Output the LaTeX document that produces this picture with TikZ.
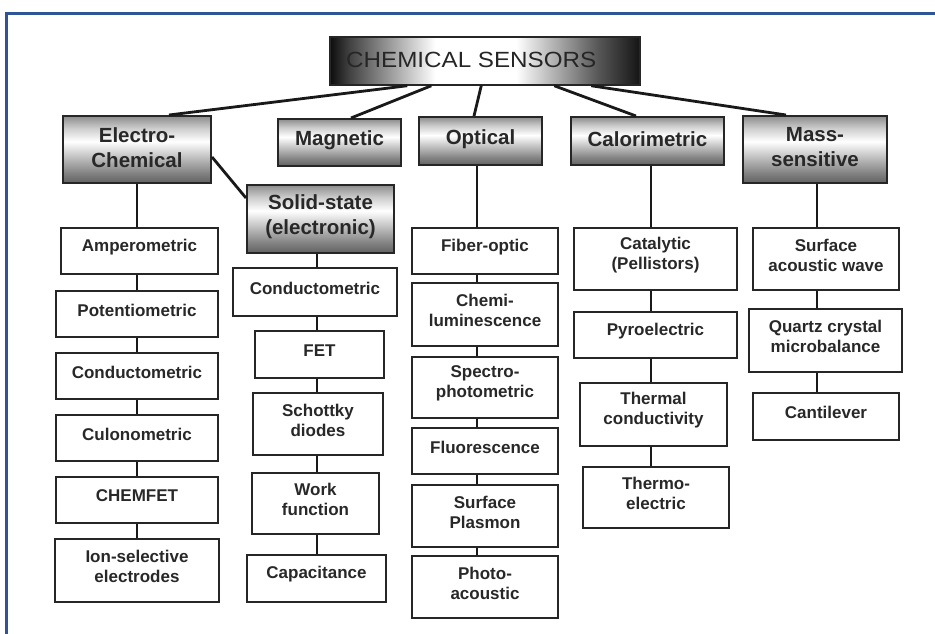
\documentclass[tikz,border=0pt]{standalone}
\usepackage{fontspec}
\setmainfont{Liberation Sans}
\newfontfamily\titlefont[FakeStretch=1.1]{Liberation Sans}
\usetikzlibrary{calc}
\definecolor{framebl}{RGB}{47,85,151}
\definecolor{txtc}{RGB}{40,40,40}
\pgfdeclareverticalshading{hdrshade}{100bp}{color(0bp)=(black!62); color(25bp)=(black!62); color(33bp)=(black!48); color(56bp)=(white); color(66bp)=(black!20); color(75bp)=(black!45); color(100bp)=(black!45)}
\pgfdeclarehorizontalshading{ttlshade}{100bp}{color(0bp)=(black); color(25bp)=(black!95); color(28bp)=(black!75); color(42bp)=(white); color(55bp)=(white); color(68bp)=(black!65); color(75bp)=(black!92); color(100bp)=(black!92)}
\newcommand\leafbox[6]{%
  \node[leaf, minimum width=#4pt, minimum height=#5pt] (#1) at (#2,#3) {};
  \node[lt] (#1t) at ([yshift=4pt]#1.center) {#6};}
\newcommand\hdrbox[6]{%
  \node[hdr, minimum width=#4pt, minimum height=#5pt] (#1) at (#2,#3) {};
  \node[ht] (#1t) at ([yshift=2pt]#1.center) {#6};}
\begin{document}
\begin{tikzpicture}[x=1pt,y=-1pt,
  leaf/.style={draw=black!85, line width=2pt, fill=white, inner sep=0pt},
  hdr/.style={draw=black!85, line width=2pt, shade, shading=hdrshade, inner sep=0pt},
  lt/.style={font=\fontsize{17}{20}\selectfont\bfseries, text=txtc, align=center, inner sep=0pt},
  ht/.style={font=\fontsize{20.5}{25}\selectfont\bfseries, text=txtc, align=center, inner sep=0pt},
  conn/.style={line width=2.8pt, black!90}]
\useasboundingbox (0,0) rectangle (935,634);
\fill[white] (0,0) rectangle (935,634);
% frame
\draw[framebl, line width=3pt] (6.5,660) -- (6.5,13.5) -- (960,13.5);

% title
\node[draw=black!85, line width=1.5pt, shade, shading=ttlshade, minimum width=310pt, minimum height=48pt, inner sep=0pt] (ttl) at (485,61) {};
\node[font=\titlefont\fontsize{22}{26}\selectfont, text=black!85, anchor=base west, inner sep=0pt] (ttlt) at (346,67.5) {CHEMICAL SENSORS};

% headers
\hdrbox{ec}{137}{149.5}{148}{67}{Electro-\\Chemical}
\hdrbox{mag}{339.5}{142.5}{123}{47}{Magnetic}
\hdrbox{opt}{480.5}{141}{123}{48}{Optical}
\hdrbox{cal}{647.5}{141}{153}{48}{Calorimetric}
\hdrbox{mass}{815}{149.5}{144}{67}{Mass-\\sensitive}
\hdrbox{ss}{320.5}{219}{147}{68}{Solid-state\\(electronic)}

% column 1
\leafbox{amp}{139.5}{251}{157}{46}{Amperometric}
\leafbox{pot}{137}{314}{162}{46}{Potentiometric}
\leafbox{conA}{137}{376}{162}{46}{Conductometric}
\leafbox{cul}{137}{438}{162}{46}{Culonometric}
\leafbox{chf}{137}{500}{162}{46}{CHEMFET}
\leafbox{ion}{137}{570.5}{164}{63}{Ion-selective\\electrodes}

% column 2
\leafbox{conB}{315}{292}{164}{48}{Conductometric}
\leafbox{fet}{319.5}{354.5}{129}{47}{FET}
\leafbox{sch}{318}{424}{130}{62}{Schottky\\diodes}
\leafbox{wf}{315.5}{503.5}{127}{61}{Work\\function}
\leafbox{cap}{316.5}{578.5}{139}{47}{Capacitance}

% column 3
\leafbox{fib}{485}{251}{146}{46}{Fiber-optic}
\leafbox{chl}{485}{314.5}{146}{63}{Chemi-\\luminescence}
\leafbox{spe}{485}{387.5}{146}{61}{Spectro-\\photometric}
\leafbox{flu}{485}{451}{146}{46}{Fluorescence}
\leafbox{spl}{485}{516}{146}{62}{Surface\\Plasmon}
\leafbox{pha}{485}{587}{146}{62}{Photo-\\acoustic}

% column 4
\leafbox{catl}{655.5}{259}{163}{62}{Catalytic\\(Pellistors)}
\leafbox{pyr}{655.5}{335}{163}{46}{Pyroelectric}
\leafbox{thc}{653.5}{414.5}{147}{63}{Thermal\\conductivity}
\leafbox{the}{656}{497.5}{146}{61}{Thermo-\\electric}

% column 5
\leafbox{saw}{826}{259}{146}{62}{Surface\\acoustic wave}
\leafbox{qcm}{825.5}{340.5}{153}{63}{Quartz crystal\\microbalance}
\leafbox{cant}{826}{416.5}{146}{47}{Cantilever}

% top connectors
\draw[conn] ([xshift=78pt]ttl.south west) -- ([xshift=107pt]ec.north west);
\draw[conn] ([xshift=102pt]ttl.south west) -- ([xshift=74pt]mag.north west);
\draw[conn] ([xshift=152pt]ttl.south west) -- ([xshift=56pt]opt.north west);
\draw[conn] ([xshift=225pt]ttl.south west) -- ([xshift=66pt]cal.north west);
\draw[conn] ([xshift=262pt]ttl.south west) -- ([xshift=44pt]mass.north west);
\draw[conn] ([yshift=-7.5pt]ec.east) -- ([yshift=21pt]ss.west);

% column lines
\coordinate (c1) at (137,0);
\coordinate (c2) at (317,0);
\coordinate (c3) at (477,0);
\coordinate (c4) at (651,0);
\coordinate (c5) at (817,0);
\foreach \a/\b in {ec/amp,amp/pot,pot/conA,conA/cul,cul/chf,chf/ion}
  \draw[conn] (\a.south -| c1) -- (\b.north -| c1);
\foreach \a/\b in {ss/conB,conB/fet,fet/sch,sch/wf,wf/cap}
  \draw[conn] (\a.south -| c2) -- (\b.north -| c2);
\foreach \a/\b in {opt/fib,fib/chl,chl/spe,spe/flu,flu/spl,spl/pha}
  \draw[conn] (\a.south -| c3) -- (\b.north -| c3);
\foreach \a/\b in {cal/catl,catl/pyr,pyr/thc,thc/the}
  \draw[conn] (\a.south -| c4) -- (\b.north -| c4);
\foreach \a/\b in {mass/saw,saw/qcm,qcm/cant}
  \draw[conn] (\a.south -| c5) -- (\b.north -| c5);
\end{tikzpicture}
\end{document}
